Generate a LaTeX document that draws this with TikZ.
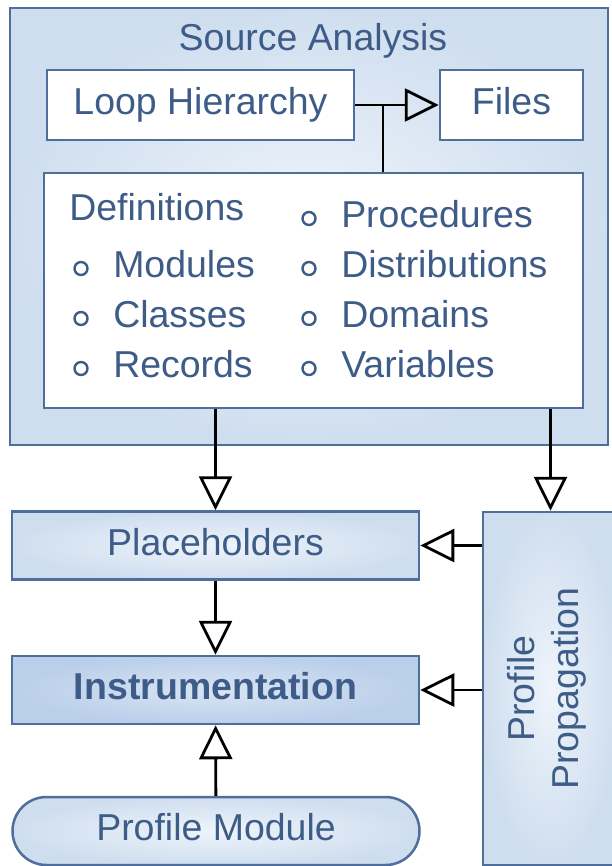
\documentclass[tikz,border=0pt]{standalone}
\usepackage{fontspec}
\setmainfont{Liberation Sans}
\usetikzlibrary{arrows.meta}
\definecolor{edgeblue}{HTML}{4E6F9C}
\definecolor{inkblue}{HTML}{3E5C88}
\definecolor{paleblue}{HTML}{CFDEEF}
\definecolor{glowblue}{HTML}{EEF4FA}
\definecolor{midblue}{HTML}{BACFEA}
\tikzstyle{flow} = [-{Triangle[open,length=34bp,width=33bp]}, draw=black, line width=2.8bp]

\begin{document}
\begin{tikzpicture}
  [x=1bp, y=-1bp, line width=2.5bp,
   every node/.style={font=\fontsize{37.6}{44}\selectfont, text=inkblue},
   panel/.style={draw=edgeblue, shade, inner color=glowblue, outer color=paleblue},
   plain/.style={draw=edgeblue, fill=white, minimum height=70bp, text height=27bp, text depth=8bp},
   stage/.style={panel, minimum width=407bp, minimum height=68bp, text height=27bp, text depth=8bp},
   hot/.style={inner color=midblue!55!white, outer color=midblue, font=\fontsize{37.6}{44}\selectfont\bfseries},
   item/.style={anchor=base west, inner sep=0pt}]

  \useasboundingbox (0,0) rectangle (612,866);
  \clip (0,0) rectangle (612,866);
  \fill[white] (0,0) rectangle (612,866);

  %Source analysis block
  \node[panel, minimum width=598bp, minimum height=437bp] (src) at (309,226.5) {};
  \node[anchor=base, inner sep=0pt] (srcT) at (313,50) {Source Analysis};
  \node[plain, minimum width=307bp] (loop) at (200.5,105) {Loop Hierarchy};
  \node[plain, minimum width=143bp] (files) at (511.5,105) {Files};
  \node[plain, minimum width=539bp, minimum height=235bp] (defs) at (313.5,290.5) {};

  %Definitions list
  \node[item] (defT) at (68,220) {Definitions};
  \foreach \t/\x/\y [count=\n] in {Modules/112/277, Classes/112/327, Records/112/377,
      Procedures/340/227, Distributions/340/277, Domains/340/327, Variables/340/377} {
    \node[item] (it\n) at (\x,\y) {\t};
    \draw[inkblue, line width=2.4bp] (\x-31,\y-8.5) circle (6.5bp);
  }

  %Lower stages
  \node[stage] (plc) at (215.5,545.5) {Placeholders};
  \node[stage, hot] (ins) at (215.5,690) {Instrumentation};
  \node[stage, rounded corners=34bp] (pm) at (216,831) {Profile Module};
  \node[panel, minimum width=135bp, minimum height=353bp] (pp) at (550.5,688.5) {};
  \node[rotate=90, align=center, inner sep=0pt] (ppT) at ([xshift=-4bp]pp.center) {Profile\\Propagation};

  %Connectors
  \coordinate (fork) at (383,105);
  \draw[flow] (loop) -- (files);
  \draw[line width=2.8bp] (fork) -- (fork |- defs.north);
  \draw[flow] (defs.south -| plc.north) -- (plc.north);
  \draw[flow] (defs.south -| pp.north) -- (pp.north);
  \draw[flow] (pp.west |- plc.east) -- (plc.east);
  \draw[flow] (pp.west |- ins.east) -- (ins.east);
  \draw[flow] (plc) -- (ins);
  \draw[flow] (pm) -- (ins);
\end{tikzpicture}
\end{document}
